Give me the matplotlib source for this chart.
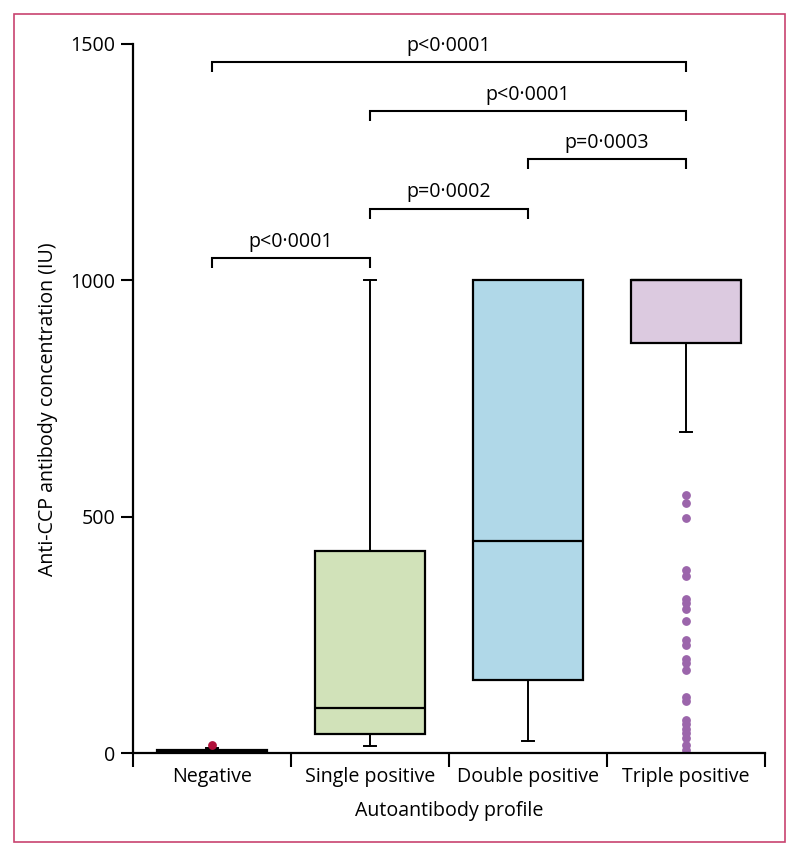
import matplotlib
matplotlib.use("Agg")
import matplotlib.pyplot as plt
from matplotlib.patches import Rectangle

plt.rcParams['font.family'] = ['Open Sans', 'DejaVu Sans']

# ---- data ----
categories = ["Negative", "Single positive", "Double positive", "Triple positive"]
whisker_low = [0, 16, 26, 679]
q1 = [0, 40, 155, 867]
median = [0, 95, 448, 1000]
q3 = [8, 427, 1000, 1000]
whisker_high = [12, 1000, 1000, 1000]
outliers_negative = [17]
outliers_single = []
outliers_double = []
outliers_triple = [546, 530, 497, 387, 375, 327, 317, 306, 280, 239, 229, 200, 191, 177,
                   119, 111, 71, 61, 52, 42, 33, 17, 8]
box_colors = ["#000000", "#d1e2b9", "#b0d8e8", "#dccae0"]
flier_colors = ["#b0103a", "#9b65ab", "#9b65ab", "#9b65ab"]

comparisons = [(0, 3, 1460, "p<0·0001"),
               (1, 3, 1357, "p<0·0001"),
               (2, 3, 1255, "p=0·0003"),
               (1, 2, 1150, "p=0·0002"),
               (0, 1, 1046, "p<0·0001")]

yticks = [0, 500, 1000, 1500]

FS = 14.1

# ---- figure ----
fig = plt.figure(figsize=(8.0, 8.56), dpi=100)
ax = fig.add_axes([133 / 800, 1 - 753.3 / 856, (765 - 133) / 800, (753.3 - 43.5) / 856])

fliers_all = [outliers_negative, outliers_single, outliers_double, outliers_triple]
stats = []
for i, c in enumerate(categories):
    stats.append(dict(label=c, whislo=whisker_low[i], q1=q1[i], med=median[i],
                      q3=q3[i], whishi=whisker_high[i], fliers=fliers_all[i]))

for i, s in enumerate(stats):
    ax.bxp([s], positions=[i], widths=0.7, patch_artist=True, showfliers=True,
           capwidths=0.075,
           boxprops=dict(facecolor=box_colors[i], edgecolor="black", linewidth=1.6),
           medianprops=dict(color="black", linewidth=1.6),
           whiskerprops=dict(color="black", linewidth=1.4),
           capprops=dict(color="black", linewidth=1.4),
           flierprops=dict(marker="o", markersize=5.3, markerfacecolor=flier_colors[i],
                           markeredgecolor=flier_colors[i], linestyle="none"))

# significance brackets
drop = 21
for a, b, y, txt in comparisons:
    ax.plot([a, a, b, b], [y - drop, y, y, y - drop], color="black", lw=1.5,
            solid_capstyle="butt", solid_joinstyle="miter", clip_on=False)
    ax.text((a + b) / 2, y + 14, txt, ha="center", va="bottom", fontsize=FS)

ax.set_xlim(-0.5, 3.5)
ax.set_ylim(0, 1500)
ax.set_yticks(yticks)
ax.set_yticklabels([str(v) for v in yticks], fontsize=FS)
ax.set_xticks(range(len(categories)))
ax.set_xticklabels(categories, fontsize=FS)
ax.tick_params(axis="x", which="major", length=0, pad=10)
ax.set_xticks([-0.5, 0.5, 1.5, 2.5, 3.5], minor=True)
ax.tick_params(axis="x", which="minor", length=10, width=1.5, direction="out")
ax.tick_params(axis="y", length=9, width=1.5, direction="out", pad=4)

for side in ["top", "right"]:
    ax.spines[side].set_visible(False)
for side in ["left", "bottom"]:
    ax.spines[side].set_linewidth(1.6)

ax.set_ylabel("Anti-CCP antibody concentration (IU)", fontsize=FS, labelpad=12)
ax.yaxis.set_label_coords(-0.118, 0.485)
ax.set_xlabel("Autoantibody profile", fontsize=FS, labelpad=10)

# outer frame
fig.patches.append(Rectangle((14 / 800, 1 - 842 / 856), (785 - 14) / 800, (842 - 14) / 856,
                             transform=fig.transFigure, fill=False,
                             edgecolor="#c8436f", linewidth=1.2))

fig.savefig("out.png", dpi=100)
